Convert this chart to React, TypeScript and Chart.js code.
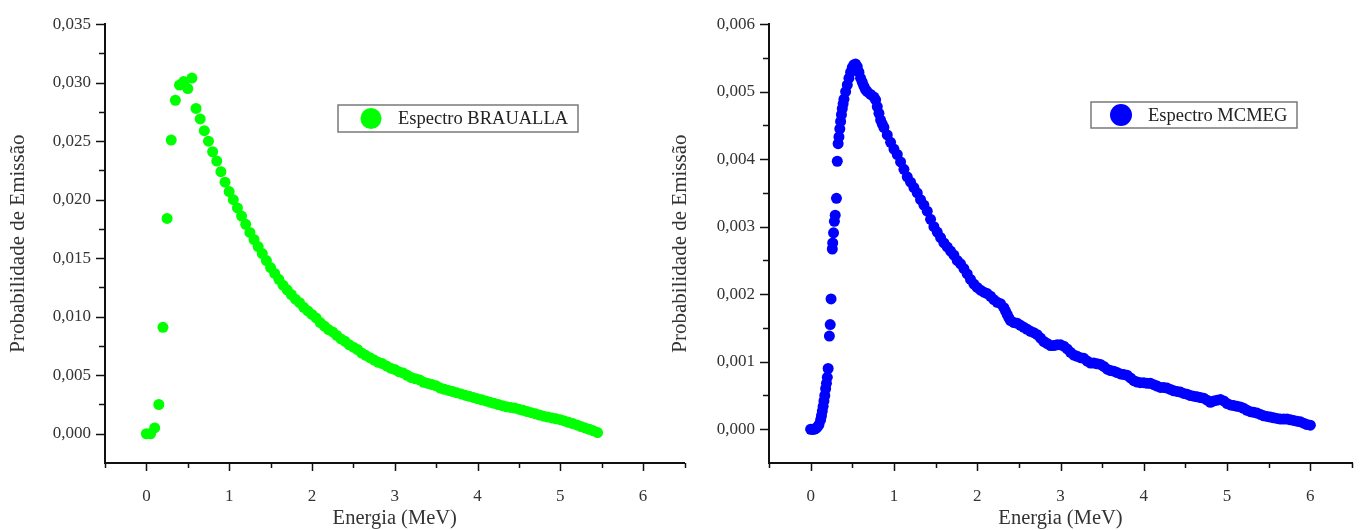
import React, { useEffect, useRef } from 'react';
import { Chart, registerables } from 'chart.js';

Chart.register(...registerables);

const FONT = "'Liberation Serif', 'Times New Roman', serif";

// ---------- Espectro BRAUALLA (left) ----------
const energiaBraualla = [
  0.0, 0.05, 0.1, 0.15, 0.2, 0.25, 0.3, 0.35, 0.4, 0.45,
  0.5, 0.55, 0.6, 0.65, 0.7, 0.75, 0.8, 0.85, 0.9, 0.95,
  1.0, 1.05, 1.1, 1.15, 1.2, 1.25, 1.3, 1.35, 1.4, 1.45,
  1.5, 1.55, 1.6, 1.65, 1.7, 1.75, 1.8, 1.85, 1.9, 1.95,
  2.0, 2.05, 2.1, 2.15, 2.2, 2.25, 2.3, 2.35, 2.4, 2.45,
  2.5, 2.55, 2.6, 2.65, 2.7, 2.75, 2.8, 2.85, 2.9, 2.95,
  3.0, 3.05, 3.1, 3.15, 3.2, 3.25, 3.3, 3.35, 3.4, 3.45,
  3.5, 3.55, 3.6, 3.65, 3.7, 3.75, 3.8, 3.85, 3.9, 3.95,
  4.0, 4.05, 4.1, 4.15, 4.2, 4.25, 4.3, 4.35, 4.4, 4.45,
  4.5, 4.55, 4.6, 4.65, 4.7, 4.75, 4.8, 4.85, 4.9, 4.95,
  5.0, 5.05, 5.1, 5.15, 5.2, 5.25, 5.3, 5.35, 5.4, 5.45,
];
const probBraualla = [
  0.0, 0.0, 0.0005, 0.0025, 0.0091, 0.0184, 0.0251, 0.0285, 0.0298, 0.0301,
  0.0295, 0.0304, 0.0278, 0.0269, 0.0259, 0.025, 0.0241, 0.0233, 0.0224, 0.0215,
  0.0207, 0.02, 0.0193, 0.0186, 0.0179, 0.0172, 0.0166, 0.016, 0.0154, 0.0148,
  0.0142, 0.0137, 0.0132, 0.0127, 0.0123, 0.0119, 0.0115, 0.0112, 0.0108, 0.0105,
  0.0102, 0.0099, 0.0095, 0.0092, 0.0089, 0.0087, 0.0084, 0.0081, 0.0079, 0.0076,
  0.0074, 0.0072, 0.0069, 0.0067, 0.0065, 0.0063, 0.0061, 0.006, 0.0058, 0.0056,
  0.0055, 0.0053, 0.0052, 0.005, 0.0048, 0.0047, 0.0046, 0.0044, 0.0043, 0.0042,
  0.0041, 0.0039, 0.0038, 0.0037, 0.0036, 0.0035, 0.0034, 0.0033, 0.0032, 0.0031,
  0.003, 0.0029, 0.0028, 0.0027, 0.0026, 0.0025, 0.0024, 0.0023, 0.00225, 0.0022,
  0.0021, 0.002, 0.0019, 0.0018, 0.0017, 0.0016, 0.0015, 0.00143, 0.00135, 0.00128,
  0.0012, 0.0011, 0.00098, 0.00087, 0.00075, 0.00062, 0.0005, 0.00038, 0.00025, 0.0001,
];

// ---------- Espectro MCMEG (right) ----------
const energiaMcmeg = [
  0.0, 0.02, 0.04, 0.06, 0.08, 0.1, 0.12, 0.13, 0.14, 0.15,
  0.16, 0.17, 0.18, 0.19, 0.2, 0.21, 0.225, 0.235, 0.245, 0.26,
  0.265, 0.275, 0.285, 0.295, 0.31, 0.32, 0.33, 0.34, 0.35, 0.36,
  0.37, 0.38, 0.39, 0.4, 0.42, 0.44, 0.46, 0.48, 0.5, 0.52,
  0.54, 0.56, 0.58,
  0.6, 0.62, 0.64, 0.66, 0.68, 0.72, 0.76, 0.78, 0.8, 0.82, 0.84, 0.86, 0.88, 0.92, 0.96,
  1.0, 1.04, 1.08, 1.12, 1.16, 1.2, 1.24, 1.28, 1.32, 1.36,
  1.4, 1.44, 1.48, 1.52, 1.56, 1.6, 1.64, 1.68, 1.72, 1.76,
  1.8, 1.84, 1.88, 1.92, 1.96, 2.0, 2.04, 2.08, 2.12, 2.16,
  2.2, 2.24, 2.28, 2.32, 2.34, 2.36, 2.38, 2.4, 2.44, 2.48, 2.52, 2.56,
  2.6, 2.64, 2.68, 2.72, 2.76, 2.8, 2.84, 2.88, 2.92, 2.96,
  3.0, 3.04, 3.08, 3.12, 3.16, 3.2, 3.24, 3.28, 3.32, 3.36,
  3.4, 3.44, 3.48, 3.52, 3.56, 3.6, 3.64, 3.68, 3.72, 3.76,
  3.8, 3.84, 3.88, 3.92, 3.96, 4.0, 4.04, 4.08, 4.12, 4.16,
  4.2, 4.24, 4.28, 4.32, 4.36, 4.4, 4.44, 4.48, 4.52, 4.56,
  4.6, 4.64, 4.68, 4.72, 4.76, 4.8, 4.84, 4.88, 4.92, 4.96,
  5.0, 5.04, 5.08, 5.12, 5.16, 5.2, 5.24, 5.28, 5.32, 5.36,
  5.4, 5.44, 5.48, 5.52, 5.56, 5.6, 5.64, 5.68, 5.72, 5.76,
  5.8, 5.84, 5.88, 5.92, 5.96, 6.0,
];
const probMcmeg = [
  0.0, 0.0, 0.0, 0.00001, 0.00003, 0.00007, 0.00014, 0.0002, 0.00027, 0.00034,
  0.00042, 0.0005, 0.0006, 0.00068, 0.00077, 0.0009, 0.00138, 0.00155, 0.00193, 0.00267,
  0.00276, 0.00291, 0.00308, 0.00317, 0.00342, 0.00397, 0.00423, 0.00433, 0.00445, 0.00456,
  0.00466, 0.00475, 0.00482, 0.00489, 0.005, 0.0051, 0.0052, 0.00529, 0.00536, 0.0054,
  0.00541, 0.00537, 0.00529,
  0.0052, 0.00514, 0.00508, 0.00503, 0.005, 0.00496, 0.00492, 0.00488, 0.00478, 0.00468, 0.00458, 0.00452, 0.00447, 0.00436, 0.00425,
  0.00415, 0.00407, 0.00396, 0.00385, 0.00374, 0.00366, 0.00358, 0.0035, 0.0034, 0.00332,
  0.00323, 0.00311, 0.003, 0.00292, 0.00284, 0.00276, 0.0027, 0.00264, 0.00258, 0.0025,
  0.00245, 0.00238, 0.0023, 0.00222, 0.00215, 0.0021, 0.00206, 0.00203, 0.00201, 0.00197,
  0.00192, 0.00188, 0.00186, 0.0018, 0.00175, 0.0017, 0.00165, 0.00161, 0.00158, 0.00157, 0.00154, 0.00151,
  0.00148, 0.00145, 0.00143, 0.0014, 0.00135, 0.0013, 0.00127, 0.00124, 0.00124, 0.00125,
  0.00125, 0.00123, 0.00119, 0.00114, 0.0011, 0.00108, 0.00106, 0.00105, 0.00101, 0.00098,
  0.00098, 0.00097, 0.00096, 0.00093, 0.00089, 0.00087, 0.00086, 0.00084, 0.00082, 0.00081,
  0.0008, 0.00076, 0.00072, 0.0007, 0.00069, 0.00069, 0.00068, 0.00068, 0.00066, 0.00064,
  0.00062, 0.00062, 0.00061, 0.00059, 0.00057, 0.00056, 0.00055, 0.00053, 0.00052, 0.0005,
  0.00049, 0.00048, 0.00047, 0.00046, 0.00043, 0.0004, 0.00042, 0.00043, 0.00044, 0.00042,
  0.00038, 0.00036, 0.00035, 0.00034, 0.00033, 0.00031, 0.00028, 0.00026, 0.00025, 0.00024,
  0.00022, 0.0002, 0.00019, 0.00018, 0.00017, 0.00016, 0.00015, 0.00015, 0.00015, 0.00014,
  0.00013, 0.00012, 0.00011, 0.00009, 0.00007, 0.00006,
];

// ---------- axes ----------
const xTicks = [0, 1, 2, 3, 4, 5, 6];
const xMinorTicks = [-0.5, 0.5, 1.5, 2.5, 3.5, 4.5, 5.5, 6.5];
const yTicksBraualla = [0, 0.005, 0.01, 0.015, 0.02, 0.025, 0.03, 0.035];
const yMinorBraualla = [0.0025, 0.0075, 0.0125, 0.0175, 0.0225, 0.0275, 0.0325];
const yTicksMcmeg = [0, 0.001, 0.002, 0.003, 0.004, 0.005, 0.006];
const yMinorMcmeg = [0.0005, 0.0015, 0.0025, 0.0035, 0.0045, 0.0055];

const xTitle = 'Energia (MeV)';
const yTitle = 'Probabilidade de Emissão';
const legendBraualla = 'Espectro BRAUALLA';
const legendMcmeg = 'Espectro MCMEG';

const ticksPlugin = {
  id: 'customTicks',
  afterDraw(chart: any, _args: any, opts: any) {
    const ctx = chart.ctx;
    const xs = chart.scales.x;
    const ys = chart.scales.y;
    const { left, bottom } = chart.chartArea;
    ctx.save();
    ctx.strokeStyle = '#111';
    ctx.lineWidth = 1.5;
    const line = (x1: number, y1: number, x2: number, y2: number) => {
      ctx.beginPath();
      ctx.moveTo(x1, y1);
      ctx.lineTo(x2, y2);
      ctx.stroke();
    };
    opts.xMajor.forEach((v: number) => {
      const p = Math.round(xs.getPixelForValue(v)) + 0.5;
      line(p, bottom, p, bottom + 8);
    });
    opts.xMinor.forEach((v: number) => {
      const p = Math.round(xs.getPixelForValue(v)) + 0.5;
      line(p, bottom, p, bottom + 5);
    });
    opts.yMajor.forEach((v: number) => {
      const p = Math.round(ys.getPixelForValue(v)) + 0.5;
      line(left, p, left - 9, p);
    });
    opts.yMinor.forEach((v: number) => {
      const p = Math.round(ys.getPixelForValue(v)) + 0.5;
      line(left, p, left - 6, p);
    });
    // legend box
    const lg = opts.legend;
    ctx.strokeStyle = '#7a7a7a';
    ctx.lineWidth = 1.5;
    ctx.strokeRect(lg.x, lg.y, lg.w, lg.h);
    ctx.fillStyle = lg.color;
    ctx.beginPath();
    ctx.arc(lg.cx, lg.y + lg.h / 2, lg.r, 0, Math.PI * 2);
    ctx.fill();
    ctx.fillStyle = '#222';
    ctx.font = `${lg.fontSize}px ${FONT}`;
    ctx.textBaseline = 'middle';
    ctx.textAlign = 'left';
    ctx.fillText(lg.text, lg.tx, lg.y + lg.h / 2 + 1);
    ctx.restore();
  },
};

function makeConfig(p: any) {
  return {
    type: 'scatter',
    data: {
      datasets: [
        {
          label: p.legend.text,
          data: p.xs.map((x: number, i: number) => ({ x, y: p.ys[i] })),
          backgroundColor: p.color,
          borderWidth: 0,
          pointRadius: 5.5,
          pointHoverRadius: 5.5,
          showLine: false,
        },
      ],
    },
    options: {
      animation: false,
      responsive: false,
      events: [],
      layout: { padding: { left: 0, top: 20, right: p.padRight, bottom: 0 } },
      plugins: {
        legend: { display: false },
        tooltip: { enabled: false },
        customTicks: {
          xMajor: xTicks,
          xMinor: xMinorTicks,
          yMajor: p.yTicks,
          yMinor: p.yMinor,
          legend: p.legend,
        },
      },
      scales: {
        x: {
          type: 'linear',
          min: -0.5,
          max: 6.5,
          afterBuildTicks: (s: any) => {
            s.ticks = xTicks.map((v) => ({ value: v }));
          },
          afterFit: (s: any) => {
            s.height = 67;
          },
          grid: { display: false, drawTicks: false },
          border: { display: true, color: '#111', width: 2 },
          ticks: {
            padding: 23,
            maxRotation: 0,
            autoSkip: false,
            color: '#333',
            font: { family: FONT, size: 17 },
            callback: (v: any) => String(v),
          },
          title: {
            display: true,
            text: xTitle,
            color: '#333',
            font: { family: FONT, size: 20.5, lineHeight: 1.1 },
            padding: { top: 0, bottom: 0 },
          },
        },
        y: {
          type: 'linear',
          min: p.yMin,
          max: p.yMax,
          afterBuildTicks: (s: any) => {
            s.ticks = p.yTicks.map((v: number) => ({ value: v }));
          },
          afterFit: (s: any) => {
            s.width = p.yWidth;
          },
          grid: { display: false, drawTicks: false },
          border: { display: true, color: '#111', width: 2 },
          ticks: {
            padding: 14,
            autoSkip: false,
            color: '#333',
            font: { family: FONT, size: 17 },
            callback: (v: any) => Number(v).toFixed(3).replace('.', ','),
          },
          title: {
            display: true,
            text: yTitle,
            color: '#333',
            font: { family: FONT, size: 21 },
            padding: { top: p.yTitlePad, bottom: 0 },
          },
        },
      },
    },
    plugins: [ticksPlugin],
  };
}

export default function App() {
  const leftRef = useRef<HTMLCanvasElement>(null);
  const rightRef = useRef<HTMLCanvasElement>(null);

  useEffect(() => {
    const c1 = new Chart(
      leftRef.current as HTMLCanvasElement,
      makeConfig({
        xs: energiaBraualla,
        ys: probBraualla,
        color: '#00ff00',
        yMin: -0.0025,
        yMax: 0.035,
        yTicks: yTicksBraualla,
        yMinor: yMinorBraualla,
        yWidth: 105,
        padRight: 3,
        yTitlePad: 6,
        legend: {
          x: 338, y: 105, w: 240, h: 27, cx: 371, r: 10.5, tx: 398,
          fontSize: 18.5, color: '#00ff00', text: legendBraualla,
        },
      }) as any
    );
    const c2 = new Chart(
      rightRef.current as HTMLCanvasElement,
      makeConfig({
        xs: energiaMcmeg,
        ys: probMcmeg,
        color: '#0000ff',
        yMin: -0.0005,
        yMax: 0.006,
        yTicks: yTicksMcmeg,
        yMinor: yMinorMcmeg,
        yWidth: 109,
        padRight: 8,
        yTitlePad: 8,
        legend: {
          x: 431, y: 102, w: 206, h: 26, cx: 461, r: 11, tx: 488,
          fontSize: 18.5, color: '#0000ff', text: legendMcmeg,
        },
      }) as any
    );
    return () => {
      c1.destroy();
      c2.destroy();
    };
  }, []);

  return (
    <div style={{ position: 'absolute', left: 0, top: 0, width: 1360, height: 530, background: '#fff' }}>
      <canvas ref={leftRef} width={690} height={530} style={{ position: 'absolute', left: 0, top: 0 }} />
      <canvas ref={rightRef} width={700} height={530} style={{ position: 'absolute', left: 660, top: 0 }} />
    </div>
  );
}
